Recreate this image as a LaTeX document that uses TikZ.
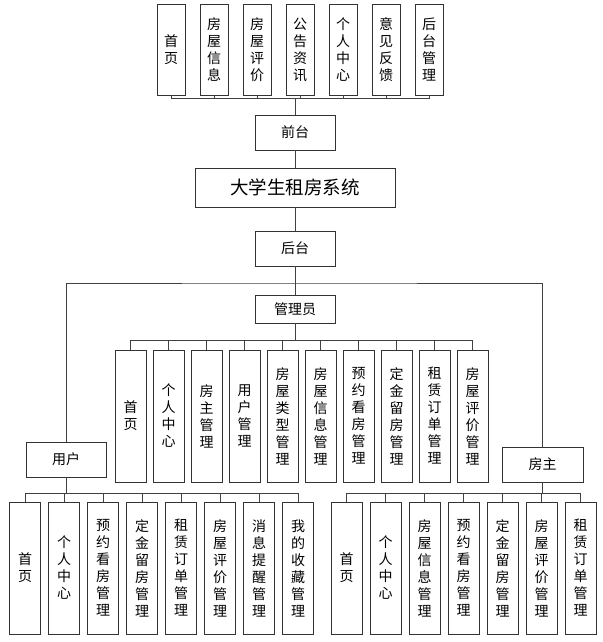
\documentclass[tikz,border=0pt]{standalone}
\usepackage{fontspec}
\setmainfont{Noto Sans CJK SC}
\tikzset{
  box/.style={draw=black!80, line width=0.9pt, inner sep=0pt, minimum width=80pt, minimum height=35pt, font=\fontsize{14}{17}\selectfont},
  leaf/.style={draw=black!80, line width=0.9pt, inner sep=0pt, minimum width=31pt, minimum height=132pt, align=center, font=\fontsize{14}{17}\selectfont},
  link/.style={draw=black!75, line width=0.9pt}
}

\begin{document}
\begin{tikzpicture}[x=1pt, y=-1pt]
  \useasboundingbox (0,0) rectangle (602,642);

  % front end
  \node[box] at (295,132.5) (fe) {前台};
  \foreach \t [count=\i] in {{首\\页},{房\\屋\\信\\息},{房\\屋\\评\\价},{公\\告\\资\\讯},{个\\人\\中\\心},{意\\见\\反\\馈},{后\\台\\管\\理}} {
    \node[leaf, minimum width=28pt, minimum height=91pt] at ({171+43*(\i-1)}, 49.5) (f\i) {\t};
    \draw[link] (fe.north) -- ++(0,-16) -| (f\i.south);
  }

  \node[box, minimum width=200pt, minimum height=39pt, font=\fontsize{18.5}{20}\selectfont] at (295,187.5) (sys) {大学生租房系统};
  \node[box] at (295,248.5) (be) {后台};
  \node[box, minimum height=28pt] at (295,309) (adm) {管理员};
  \node[box] at (66,459.5) (user) {用户};
  \node[box, minimum width=81pt] at (542.5,464.5) (owner) {房主};

  \draw[link] (fe) -- (sys);
  \draw[link] (sys) -- (be);
  \draw[link] (be) -- (adm);
  \coordinate (split) at (295,283);
  \draw[link] (user.north) |- (split) -| (owner.north);

  % admin
  \foreach \t [count=\i] in {{首\\页},{个\\人\\中\\心},{房\\主\\管\\理},{用\\户\\管\\理},{房\\屋\\类\\型\\管\\理},{房\\屋\\信\\息\\管\\理},{预\\约\\看\\房\\管\\理},{定\\金\\留\\房\\管\\理},{租\\赁\\订\\单\\管\\理},{房\\屋\\评\\价\\管\\理}} {
    \node[leaf] at ({130.5+38*(\i-1)}, 416) (a\i) {\t};
    \draw[link] (adm.south) -- ++(0,17) -| (a\i.north);
  }

  % user
  \foreach \t [count=\i] in {{首\\页},{个\\人\\中\\心},{预\\约\\看\\房\\管\\理},{定\\金\\留\\房\\管\\理},{租\\赁\\订\\单\\管\\理},{房\\屋\\评\\价\\管\\理},{消\\息\\提\\醒\\管\\理},{我\\的\\收\\藏\\管\\理}} {
    \node[leaf] at ({25+39*(\i-1)}, 568) (u\i) {\t};
    \draw[link] (user.south) -- ++(0,16) -| (u\i.north);
  }

  % owner
  \foreach \t [count=\i] in {{首\\页},{个\\人\\中\\心},{房\\屋\\信\\息\\管\\理},{预\\约\\看\\房\\管\\理},{定\\金\\留\\房\\管\\理},{房\\屋\\评\\价\\管\\理},{租\\赁\\订\\单\\管\\理}} {
    \node[leaf] at ({346.5+39*(\i-1)}, 568) (o\i) {\t};
    \draw[link] (owner.south) -- ++(0,11) -| (o\i.north);
  }
\end{tikzpicture}
\end{document}
